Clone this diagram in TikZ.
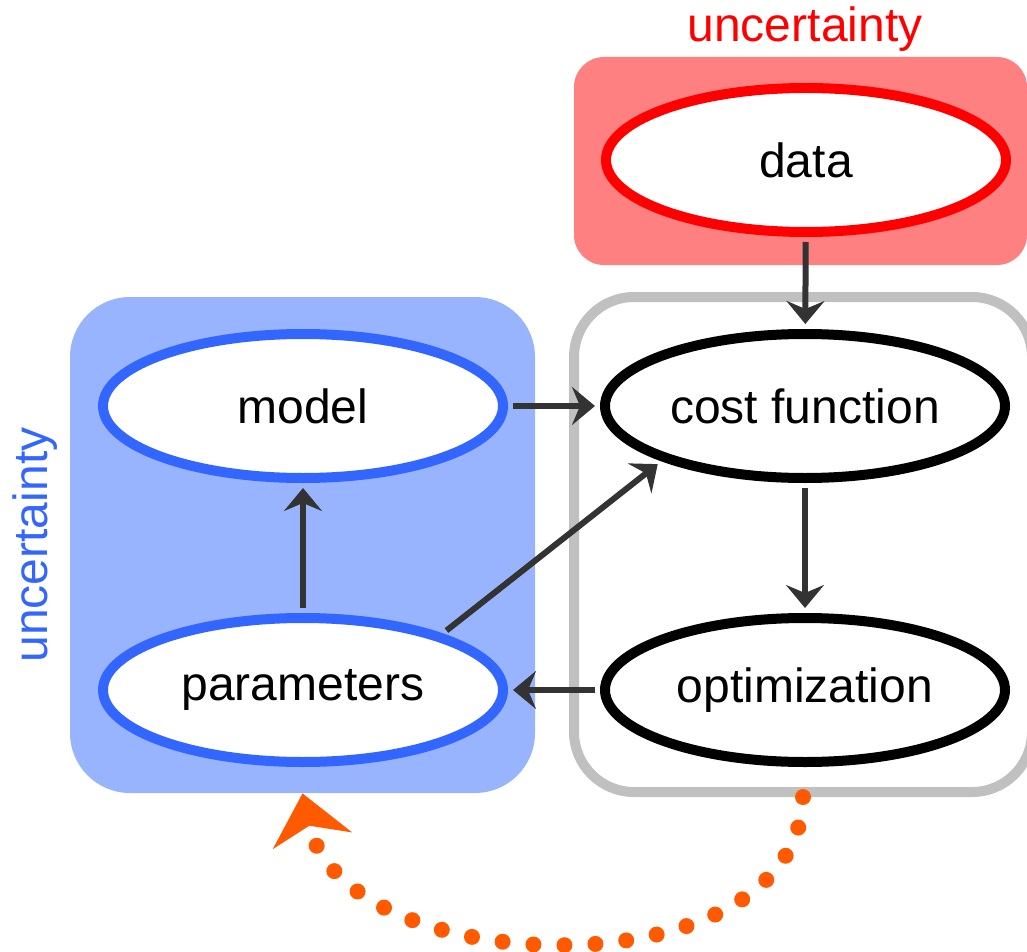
\documentclass[tikz,border=0pt]{standalone}
\usepackage{fontspec}
\setmainfont{Liberation Sans}
\usepackage{tikz}
\usetikzlibrary{shapes.geometric,arrows.meta}
\definecolor{uncBlue}{RGB}{51,102,255}
\definecolor{uncBlueFill}{RGB}{153,180,255}
\definecolor{uncRed}{RGB}{255,0,0}
\definecolor{uncRedFill}{RGB}{255,128,128}
\definecolor{loopGray}{RGB}{192,192,192}
\definecolor{arrowGray}{RGB}{51,51,51}
\definecolor{feedOrange}{RGB}{255,90,0}

\begin{document}
\begin{tikzpicture}[x=0.5pt,y=-0.5pt,font=\fontsize{24}{28}\selectfont,
  oval/.style={ellipse,draw,line width=5pt,fill=white,minimum width=200pt,minimum height=72pt,inner sep=0pt},
  flow/.style={draw=arrowGray,line width=3pt,shorten <=2.5pt,shorten >=2.5pt,-{Stealth[length=11.5pt,width=19pt,inset=4pt]}},
  feed/.style={draw=feedOrange,line width=8pt,line cap=round,dash pattern=on 0pt off 15.5pt,-{Stealth[length=24pt,width=40pt,inset=7.5pt]}}]
  % canvas in pixel units of the sketch (1027 x 952), y pointing down
  \useasboundingbox (0,0) rectangle (1027,952);
  % shaded groups and the optimisation loop box
  \node[fill=uncRedFill,rounded corners=15pt,minimum width=226.5pt,minimum height=104pt] (redBox) at (800.5,161) {};
  \node[fill=uncBlueFill,rounded corners=30pt,minimum width=232.5pt,minimum height=248pt] (blueBox) at (302.5,545) {};
  \node[draw=loopGray,line width=5pt,rounded corners=30pt,minimum width=229pt,minimum height=247.5pt] (grayBox) at (803,544.5) {};
  \node[uncRed,anchor=base] (redLabel) at (805,42) {uncertainty};
  \node[uncBlue,anchor=base,rotate=90] (blueLabel) at (47,545) {uncertainty};
  % the five blocks
  \node[oval,draw=uncRed] (data) at (806,160) {data};
  \node[oval,draw=uncBlue] (model) at (303,406) {model};
  \node[oval,draw=uncBlue] (params) at (303,690) {parameters};
  \node[oval,draw=black] (cost) at (805,406) {cost function};
  \node[oval,draw=black] (optim) at (805,690) {optimization};
  % connections
  \draw[flow] (data) -- (cost);
  \draw[flow] (model) -- (cost);
  \draw[flow] (params) -- (model);
  \draw[flow] (params.22) -- (cost.201);
  \draw[flow] (cost) -- (optim);
  \draw[flow] (optim) -- (params);
  \draw[feed] (grayBox.south) .. controls +(-6,200) and +(40,190) .. (blueBox.south);
\end{tikzpicture}
\end{document}
